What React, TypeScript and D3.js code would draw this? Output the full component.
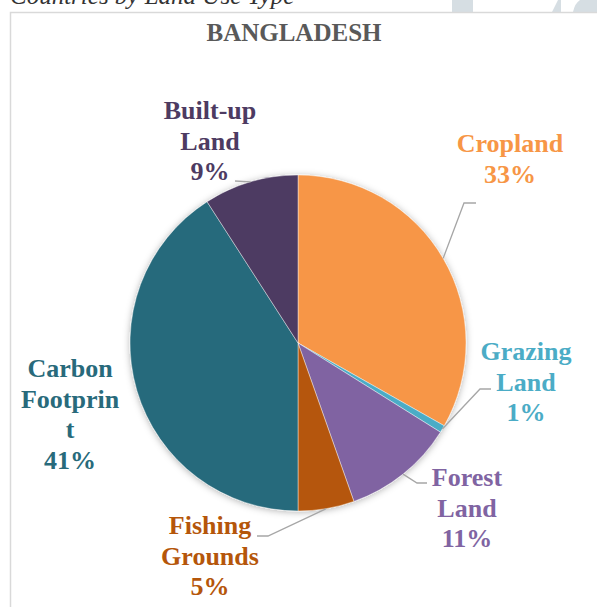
import React from "react";
import * as d3 from "d3";

const categories = ["Cropland", "Grazing Land", "Forest Land", "Fishing Grounds", "Carbon Footprint", "Built-up Land"];
const values = [33.2, 0.7, 10.7, 5.4, 40.9, 9.1];
const labelLines = [
  ["Cropland"],
  ["Grazing", "Land"],
  ["Forest", "Land"],
  ["Fishing", "Grounds"],
  ["Carbon", "Footprin", "t"],
  ["Built-up", "Land"],
];
const colors = ["#F79646", "#4BACC6", "#8064A2", "#B5560A", "#286A7B", "#4D3B62"];
const chartTitle = "BANGLADESH";
const captionText = "Countries by Land Use Type";

// layout (positions of labels and leader-line elbows)
const labelLayout: Record<string, { x: number; y: number; elbow?: [number, number][] }> = {
  "Cropland": { x: 510, y: 152, elbow: [[464, 203], [476, 203]] },
  "Grazing Land": { x: 526, y: 360, elbow: [[480, 389], [491, 389]] },
  "Forest Land": { x: 467, y: 486, elbow: [[417, 483], [427, 483]] },
  "Fishing Grounds": { x: 210, y: 534, elbow: [[268, 536], [257, 536]] },
  "Carbon Footprint": { x: 70, y: 377 },
  "Built-up Land": { x: 210, y: 119, elbow: [[235, 181]] },
};

export default function App() {
  const W = 597, H = 607;
  const cx = 298, cy = 343, R = 168;
  const total = d3.sum(values);
  const pie = d3.pie<number>().sort(null).value((d) => d);
  const arcs = pie(values);
  const arc = d3.arc<d3.PieArcDatum<number>>().innerRadius(0).outerRadius(R);
  const lineH = 30.5;

  return (
    <div style={{ position: "fixed", left: 0, top: 0, width: W, height: H, background: "#fff" }}>
      <svg width={W} height={H} style={{ display: "block" }}>
        <defs>
          <filter id="sh" x="-20%" y="-20%" width="140%" height="140%">
            <feDropShadow dx="0" dy="1" stdDeviation="3.5" floodColor="#000" floodOpacity="0.3" />
          </filter>
        </defs>
        {/* watermark shapes above the frame */}
        <rect x={452} y={0} width={21} height={12} fill="#D6DEE3" />
        <polygon points="552,12 558,0 561,0 561,12" fill="#D6DEE3" />
        <path d="M573,12 Q575,3 580,0 L597,0 L597,12 Z" fill="#D6DEE3" />
        <text x={10} y={4} fontFamily="Liberation Serif" fontStyle="italic" fontSize={25} fill="#333">{captionText}</text>
        {/* frame */}
        <rect x={10.5} y={12.5} width={W + 10} height={H + 10} fill="#fff" stroke="#D9D9D9" strokeWidth={1.5} />
        <text x={294} y={41} textAnchor="middle" fontFamily="Liberation Serif" fontWeight="bold" fontSize={25} fill="#595959">{chartTitle}</text>
        <g transform={`translate(${cx},${cy})`}>
          <g filter="url(#sh)">
            {arcs.map((a, i) => (
              <path key={i} d={arc(a) || ""} fill={colors[i]} stroke="#fff" strokeWidth={0.6} strokeOpacity={0.7} />
            ))}
          </g>
        </g>
        {arcs.map((a, i) => {
          const lay = labelLayout[categories[i]];
          if (!lay.elbow) return null;
          const mid = (a.startAngle + a.endAngle) / 2;
          const sx = cx + R * Math.sin(mid);
          const sy = cy - R * Math.cos(mid);
          const pts: [number, number][] = [[sx, sy], ...lay.elbow];
          return (
            <polyline key={"l" + i} points={pts.map((p) => p.join(",")).join(" ")} fill="none" stroke="#A6A6A6" strokeWidth={1.3} />
          );
        })}
        {arcs.map((a, i) => {
          const lay = labelLayout[categories[i]];
          const pct = Math.round((values[i] / total) * 100) + "%";
          const lines = [...labelLines[i], pct];
          return (
            <text key={"t" + i} textAnchor="middle" fontFamily="Liberation Serif" fontWeight="bold" fontSize={26} fill={colors[i]}>
              {lines.map((ln, j) => (
                <tspan key={j} x={lay.x} y={lay.y + j * lineH}>{ln}</tspan>
              ))}
            </text>
          );
        })}
      </svg>
    </div>
  );
}
